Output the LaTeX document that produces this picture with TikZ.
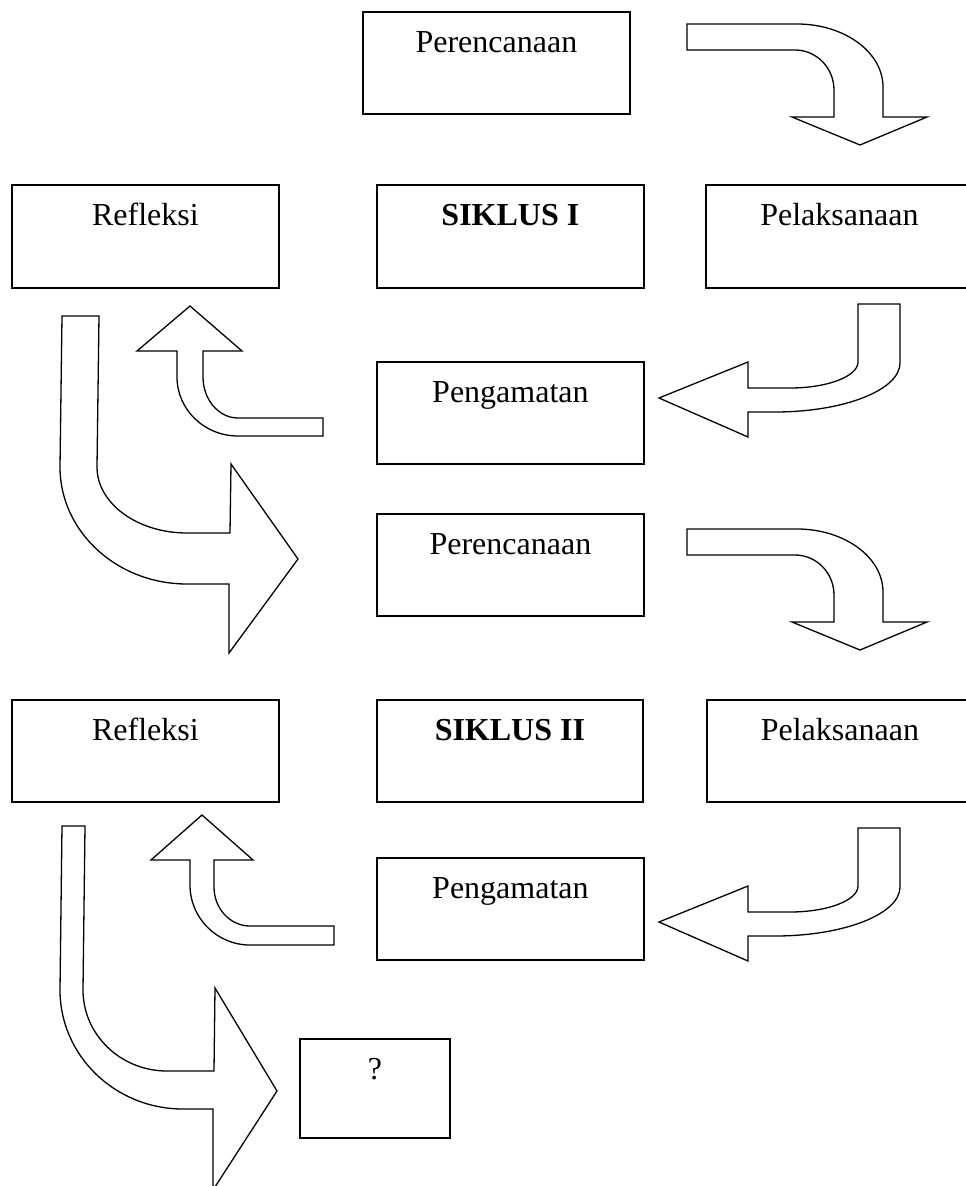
\documentclass[tikz,border=0pt]{standalone}
\usepackage{fontspec}
\setmainfont{Liberation Serif}
\usetikzlibrary{calc}
\tikzset{
  box/.style={draw, line width=1.8pt, anchor=north west, inner sep=0pt},
  lbl/.style={anchor=base, inner sep=0pt, font=\fontsize{32}{38}\selectfont},
  barrow/.style={draw, line width=1.3pt, fill=white, line join=miter},
}
\newcommand\cyclebox[6]{%
  \node[box, minimum width=#4pt, minimum height=#5pt] (#1) at (#2,#3) {};
  \node[lbl] (#1-t) at ($(#1.north)+(0,41)$) {#6};
}
\begin{document}
\begin{tikzpicture}[x=1pt,y=-1pt]
\useasboundingbox (0,0) rectangle (966,1186);
\clip (0,0) rectangle (966,1186);

% ---- boxes ----
\cyclebox{p1}{362}{11}{267}{102}{Perencanaan}
\cyclebox{r1}{11}{184}{267}{103}{Refleksi}
\cyclebox{s1}{376}{184}{267}{103}{\textbf{SIKLUS I}}
\cyclebox{l1}{705}{184}{267}{103}{Pelaksanaan}
\cyclebox{g1}{376}{361}{267}{102}{Pengamatan}
\cyclebox{p2}{376}{513}{267}{102}{Perencanaan}
\cyclebox{r2}{11}{699}{267}{102}{Refleksi}
\cyclebox{s2}{376}{699}{266}{102}{\textbf{SIKLUS II}}
\cyclebox{l2}{706}{699}{266}{102}{Pelaksanaan}
\cyclebox{g2}{376}{857}{267}{102}{Pengamatan}
\cyclebox{q}{299}{1038}{150}{99}{?}

% ---- arrow: right then down (Perencanaan -> Pelaksanaan) ----
\foreach \dy in {0,505}{
\begin{scope}[shift={(0,\dy)}]
\draw[barrow] (687,24) -- (797,24)
  .. controls (844.5,24) and (883,52.2) .. (883,87)
  -- (883,117) -- (927,117) -- (860,145) -- (792,117) -- (834,117) -- (834,90)
  .. controls (834,67.9) and (816.5,50) .. (795,50)
  -- (687,50) -- cycle;
\end{scope}}

% ---- arrow: down then left (Pelaksanaan -> Pengamatan) ----
\foreach \dy in {0,524}{
\begin{scope}[shift={(0,\dy)}]
\draw[barrow] (858,304) -- (858,362)
  .. controls (858,376.4) and (827.5,388) .. (790,388)
  -- (748,388) -- (748,362) -- (659,398) -- (748,437) -- (748,412) -- (775,412)
  .. controls (844,412) and (900,390) .. (900,363)
  -- (900,304) -- cycle;
\end{scope}}

% ---- arrow: left then up (Pengamatan -> Refleksi) ----
\draw[barrow] (323,418) -- (238,418)
  .. controls (218.7,418) and (203,399.6) .. (203,377)
  -- (203,351) -- (242,351) -- (190,306) -- (137,351) -- (177,351) -- (177,377)
  .. controls (177,409.6) and (204.3,436) .. (238,436)
  -- (323,436) -- cycle;
\draw[barrow] (334,926) -- (250,926)
  .. controls (230.1,926) and (214,908.5) .. (214,887)
  -- (214,860) -- (253,860) -- (202,815) -- (151,860) -- (190,860) -- (190,885)
  .. controls (190,918.1) and (216.9,945) .. (250,945)
  -- (334,945) -- cycle;

% ---- arrow: down then right (Refleksi -> next) ----
\draw[barrow] (62,316) -- (60,467)
  .. controls (60,531.6) and (116.9,584) .. (187,584)
  -- (229,584) -- (229,653) -- (298,559) -- (231,464) -- (230,533) -- (187,533)
  .. controls (137.3,533) and (97,503.4) .. (97,467)
  -- (99,316) -- cycle;
\draw[barrow] (62,826) -- (60,990)
  .. controls (60,1055.7) and (115.1,1109) .. (183,1109)
  -- (213,1109) -- (213,1190) -- (277,1091) -- (215,988) -- (214,1071) -- (167,1071)
  .. controls (120.6,1071) and (83,1034.7) .. (83,990)
  -- (85,826) -- cycle;
\end{tikzpicture}
\end{document}
